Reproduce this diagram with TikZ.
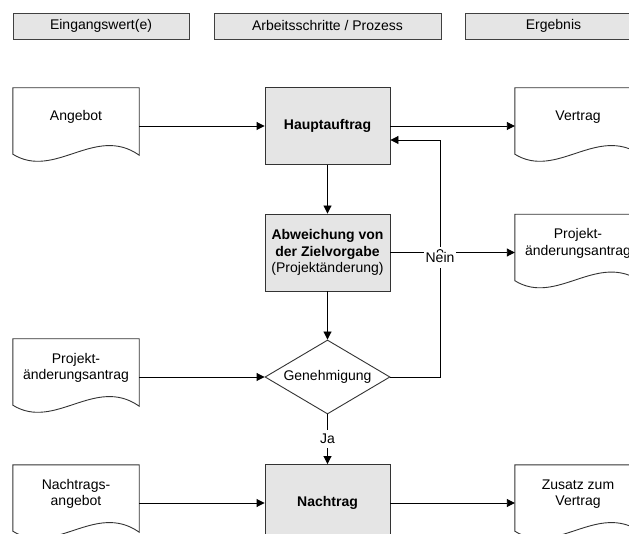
\documentclass[tikz,border=0pt]{standalone}
\usepackage{fontspec}
\setmainfont{Liberation Sans}
\usetikzlibrary{arrows.meta,shapes.geometric}

\begin{document}
\begin{tikzpicture}[x=1pt, y=-1pt, font=\fontsize{14}{16.5}\selectfont,
	head/.style={draw=black!75, fill=black!10, line width=0.8pt, minimum height=26pt, inner sep=0pt},
	task/.style={draw=black!80, fill=black!10, line width=0.9pt, minimum width=125pt, minimum height=77pt, align=center, inner sep=0pt},
	ask/.style={draw=black!80, diamond, aspect=1.7, line width=0.9pt, minimum width=125pt, minimum height=74pt, inner sep=0pt},
	doc/.style={minimum width=126pt, minimum height=58pt, align=center, inner sep=0pt},
	docline/.style={draw=black!80, line width=0.9pt},
	arr/.style={line width=0.9pt, -{Triangle[length=8pt,width=8pt]}},
	lbl/.style={fill=white, inner xsep=1.5pt, inner ysep=5pt}]
	
		\def \xl {76}
		\def \xm {327.5}
		\def \xr {578}
		
		\path[fill=white, use as bounding box] (0,0) rectangle (629,534);
		\clip (0,0) rectangle (629,534);
		
		% columns
		\node[head, minimum width=176pt] (hin) at (101,26) {Eingangswert(e)};
		\node[head, minimum width=227pt] (hpro) at (\xm,26) {Arbeitsschritte / Prozess};
		\node[head, minimum width=176pt] (herg) at (553.5,26) {Ergebnis};
		
		\node[task] (haupt) at (\xm,126) {\textbf{Hauptauftrag}};
		\node[task] (abw) at (\xm,252.5) {\textbf{Abweichung von}\\\textbf{der Zielvorgabe}\\(Projektänderung)};
		\node[ask] (gen) at (\xm,377) {Genehmigung};
		\node[task] (nach) at (\xm,503) {\textbf{Nachtrag}};
		
		\node[doc] (angebot) at (\xl,117) {Angebot};
		\node[doc] (vertrag) at (\xr,117) {Vertrag};
		\node[doc] (antragr) at (\xr,243.5) {Projekt-\\änderungsantrag};
		\node[doc] (antragl) at (\xl,368) {Projekt-\\änderungsantrag};
		\node[doc] (nangebot) at (\xl,494) {Nachtrags-\\angebot};
		\node[doc] (zusatz) at (\xr,494) {Zusatz zum\\Vertrag};
		
		\foreach \d in {angebot,vertrag,antragr,antragl,nangebot,zusatz}{
			\draw[docline] (\d.north west) -- (\d.north east) -- ([yshift=-9pt]\d.south east)
				.. controls +(-44,-31) and +(42,26) .. ([yshift=-8pt]\d.south west) -- cycle;
		}
		
		\draw[arr] (angebot.east |- haupt) -- (haupt);
		\draw[arr] (haupt) -- (haupt -| vertrag.west);
		\draw[arr] (haupt) -- (abw);
		\draw[arr] (abw) -- (gen);
		\draw[arr] (antragl.east |- gen) -- (gen);
		\draw[arr] (nangebot.east |- nach) -- (nach);
		\draw[arr] (nach) -- (nach -| zusatz.west);
		\draw[arr] (gen) -- node[lbl, inner ysep=4pt] (ja) {Ja} (nach);
		
		% zurueck zum Hauptauftrag
		\coordinate (bend) at (440,140);
		\draw[arr] (gen.east) -| (bend) -- (bend -| haupt.east);
		\draw[arr] (abw) -- (abw -| antragr.west);
		\node[lbl, yshift=-5pt] (nein) at (bend |- abw) {Nein};
		\draw[line width=0.9pt] ([xshift=-3pt]bend |- abw) .. controls +(0,-4) and +(0,-4) .. ([xshift=3pt]bend |- abw);

	\end{tikzpicture}
\end{document}
